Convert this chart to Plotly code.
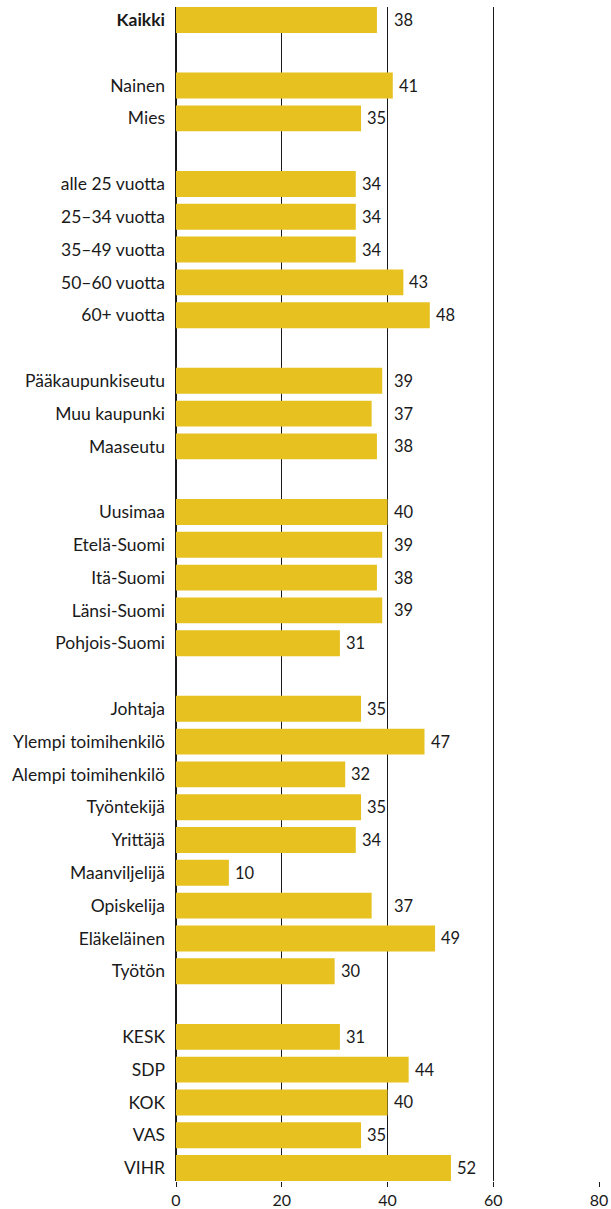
import plotly.graph_objects as go

# groups of the chart, top to bottom
labels_total = ["Kaikki"]
values_total = [38]

labels_gender = ["Nainen", "Mies"]
values_gender = [41, 35]

labels_age = ["alle 25 vuotta", "25–34 vuotta", "35–49 vuotta", "50–60 vuotta", "60+ vuotta"]
values_age = [34, 34, 34, 43, 48]

labels_area = ["Pääkaupunkiseutu", "Muu kaupunki", "Maaseutu"]
values_area = [39, 37, 38]

labels_region = ["Uusimaa", "Etelä-Suomi", "Itä-Suomi", "Länsi-Suomi", "Pohjois-Suomi"]
values_region = [40, 39, 38, 39, 31]

labels_job = ["Johtaja", "Ylempi toimihenkilö", "Alempi toimihenkilö", "Työntekijä",
              "Yrittäjä", "Maanviljelijä", "Opiskelija", "Eläkeläinen", "Työtön"]
values_job = [35, 47, 32, 35, 34, 10, 37, 49, 30]

labels_party = ["KESK", "SDP", "KOK", "VAS", "VIHR"]
values_party = [31, 44, 40, 35, 52]

x_ticks = [0, 20, 40, 60, 80]

groups = [
    (labels_total, values_total),
    (labels_gender, values_gender),
    (labels_age, values_age),
    (labels_area, values_area),
    (labels_region, values_region),
    (labels_job, values_job),
    (labels_party, values_party),
]

BAR = "#E6C120"
INK = "#1a1a1a"
FONT = "Lato"

keys, texts, vals = [], [], []
for i, (labs, vs) in enumerate(groups):
    if i > 0:
        keys.append("gap%d" % i)
        texts.append("")
        vals.append(None)
    for lab, v in zip(labs, vs):
        keys.append(lab)
        texts.append("<b>%s</b>" % lab if lab == "Kaikki" else lab)
        vals.append(v)

fig = go.Figure(go.Bar(
    x=vals, y=keys, orientation="h",
    marker=dict(color=BAR, line=dict(width=0)),
    hoverinfo="skip",
))

# value labels; ones that would hit the 40 gridline go past it
for k, v in zip(keys, vals):
    if v is None:
        continue
    lx = 40 if 36 <= v < 40 else v
    fig.add_annotation(x=lx, y=k, text=str(v), showarrow=False,
                       xanchor="left", xshift=4,
                       font=dict(family=FONT, size=16.5, color=INK))

n = len(keys)
fig.update_layout(
    width=611, height=1209,
    margin=dict(l=176, r=12, t=7, b=28),
    paper_bgcolor="white", plot_bgcolor="white",
    bargap=0.21, showlegend=False,
    font=dict(family=FONT, size=15, color=INK),
)
fig.update_xaxes(
    range=[0, 80], tickvals=x_ticks, automargin=False,
    showgrid=True, gridcolor=INK, gridwidth=1,
    zeroline=True, zerolinecolor=INK, zerolinewidth=1.5,
    showline=False, ticks="outside", ticklen=5, tickcolor=INK, tickwidth=1,
    tickfont=dict(family=FONT, size=16, color=INK),
)
fig.update_yaxes(
    type="category", categoryorder="array", categoryarray=keys,
    tickvals=keys, ticktext=texts, automargin=False,
    range=[n - 1 + 0.395, -0.395],
    showgrid=False, zeroline=False, showline=False, ticks="",
    ticklabelstandoff=10,
    tickfont=dict(family=FONT, size=17.5, color=INK),
)

fig.write_html("out.html", config={"displayModeBar": False},
               post_script="document.body.style.margin = '0';")
